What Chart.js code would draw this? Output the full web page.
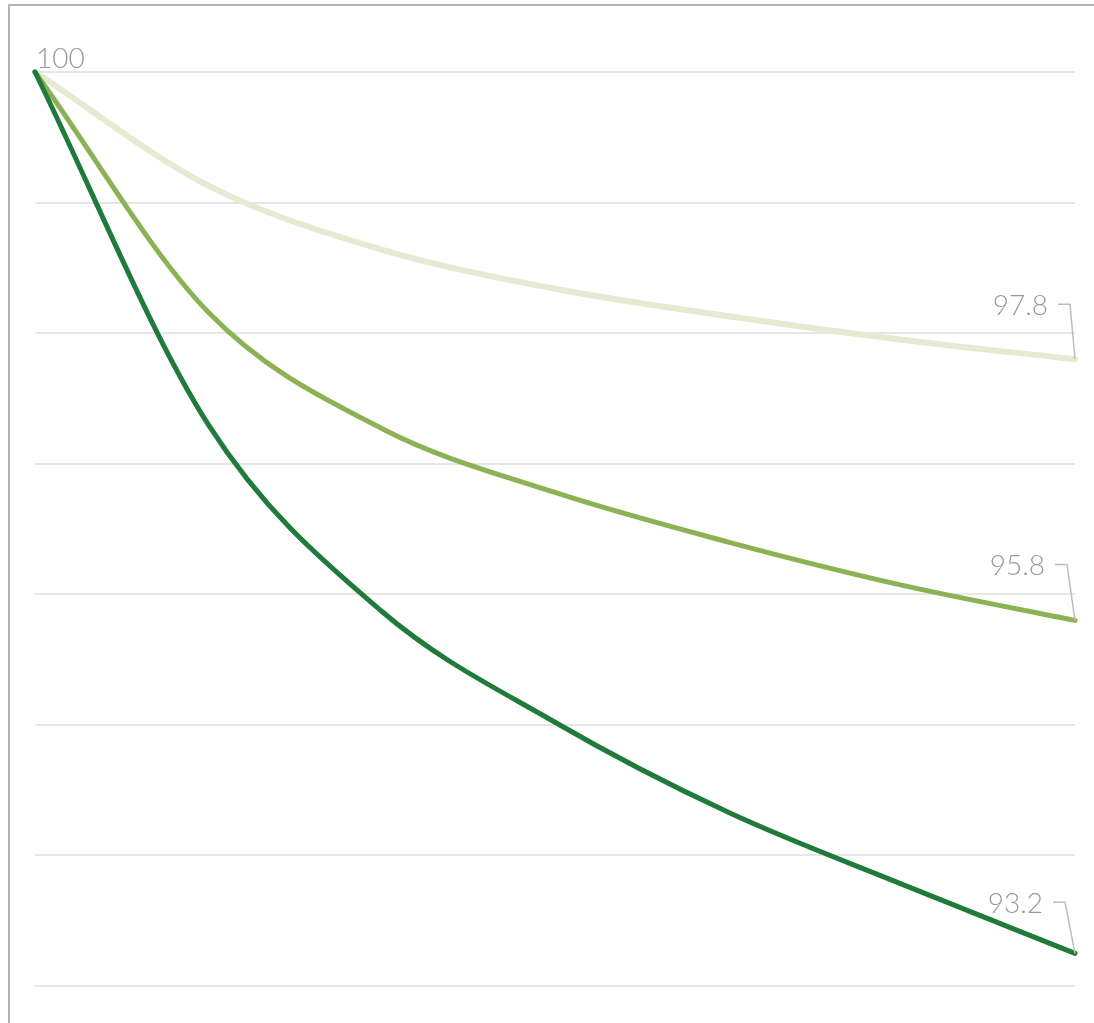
<!DOCTYPE html>
<html>
<head>
<meta charset="utf-8">
<script src="https://cdn.jsdelivr.net/npm/chart.js@4/dist/chart.umd.min.js"></script>
<style>
  html, body { margin: 0; padding: 0; background: #fff; }
  #wrap { position: relative; width: 1094px; height: 1023px; }
</style>
</head>
<body>
<div id="wrap"><canvas id="c" width="1094" height="1023"></canvas></div>
<script>
// ---- data ----
const categories = ['0', '1', '2', '3', '4', '5', '6'];
const seriesNames = ['Dark', 'Medium', 'Pale'];
const darkValues   = [100, 97.30, 95.87, 95.02, 94.33, 93.78, 93.25];
const mediumValues = [100, 98.16, 97.27, 96.78, 96.40, 96.07, 95.80];
const paleValues   = [100, 99.13, 98.64, 98.34, 98.13, 97.95, 97.80];
const startLabel = '100';
const endLabels = ['93.2', '95.8', '97.8'];
const yTicks = [93, 94, 95, 96, 97, 98, 99, 100];

const colors = ['#1f7a3b', '#8db255', '#e5ead2'];
const widths = [5, 5, 6];

const W = 1094, H = 1023;
const FONT = '300 28px Lato, "Source Sans Pro", "Open Sans", sans-serif';
const TEXT_COLOR = '#999999';

const framePlugin = {
  id: 'frame',
  beforeDraw(chart) {
    const ctx = chart.ctx;
    ctx.save();
    ctx.fillStyle = '#ffffff';
    ctx.fillRect(0, 0, W, H);
    ctx.fillStyle = '#b3b3b3';
    ctx.fillRect(8, 4, 2, H - 4);
    ctx.fillRect(8, 4, W - 8, 2);
    ctx.restore();
  }
};

// leader offsets per dataset (corner relative to end point)
const leaderOffsets = [[-10, -51], [-8, -56], [-5, -55]];

const labelPlugin = {
  id: 'labels',
  afterDatasetsDraw(chart) {
    const ctx = chart.ctx;
    const xs = chart.scales.x, ys = chart.scales.y;
    ctx.save();
    ctx.font = FONT;
    ctx.fillStyle = TEXT_COLOR;
    ctx.textAlign = 'left';
    ctx.textBaseline = 'alphabetic';
    ctx.fillText(startLabel, xs.getPixelForValue(0) + 1, ys.getPixelForValue(yTicks[yTicks.length - 1]) - 4);
    chart.data.datasets.forEach((ds, i) => {
      const last = ds.data.length - 1;
      const px = xs.getPixelForValue(last);
      const py = ys.getPixelForValue(ds.data[last]);
      const cx = px + leaderOffsets[i][0];
      const cy = py + leaderOffsets[i][1];
      ctx.strokeStyle = '#bdbdbd';
      ctx.lineWidth = 1.5;
      ctx.beginPath();
      ctx.moveTo(cx - 12, cy);
      ctx.lineTo(cx, cy);
      ctx.lineTo(px, py);
      ctx.stroke();
      ctx.textAlign = 'right';
      ctx.textBaseline = 'alphabetic';
      ctx.fillText(endLabels[i], cx - 22, cy + 11);
    });
    ctx.restore();
  }
};

new Chart(document.getElementById('c'), {
  type: 'line',
  data: {
    labels: categories,
    datasets: [darkValues, mediumValues, paleValues].map((vals, i) => ({
      label: seriesNames[i],
      data: vals,
      borderColor: colors[i],
      backgroundColor: colors[i],
      borderWidth: widths[i],
      pointRadius: 0,
      pointHoverRadius: 0,
      cubicInterpolationMode: 'monotone',
      borderCapStyle: 'round',
      borderJoinStyle: 'round',
      fill: false,
      clip: false
    }))
  },
  options: {
    responsive: false,
    devicePixelRatio: 1,
    animation: false,
    events: [],
    layout: { padding: { left: 35, right: 19, top: 72, bottom: 37 } },
    plugins: { legend: { display: false }, tooltip: { enabled: false } },
    scales: {
      x: { display: false, offset: false },
      y: {
        min: yTicks[0],
        max: yTicks[yTicks.length - 1],
        afterBuildTicks(scale) { scale.ticks = yTicks.map(v => ({ value: v })); },
        ticks: { display: false },
        border: { display: false },
        grid: { color: '#e6e6e6', lineWidth: 2, drawTicks: false }
      }
    }
  },
  plugins: [framePlugin, labelPlugin]
});
</script>
</body>
</html>
